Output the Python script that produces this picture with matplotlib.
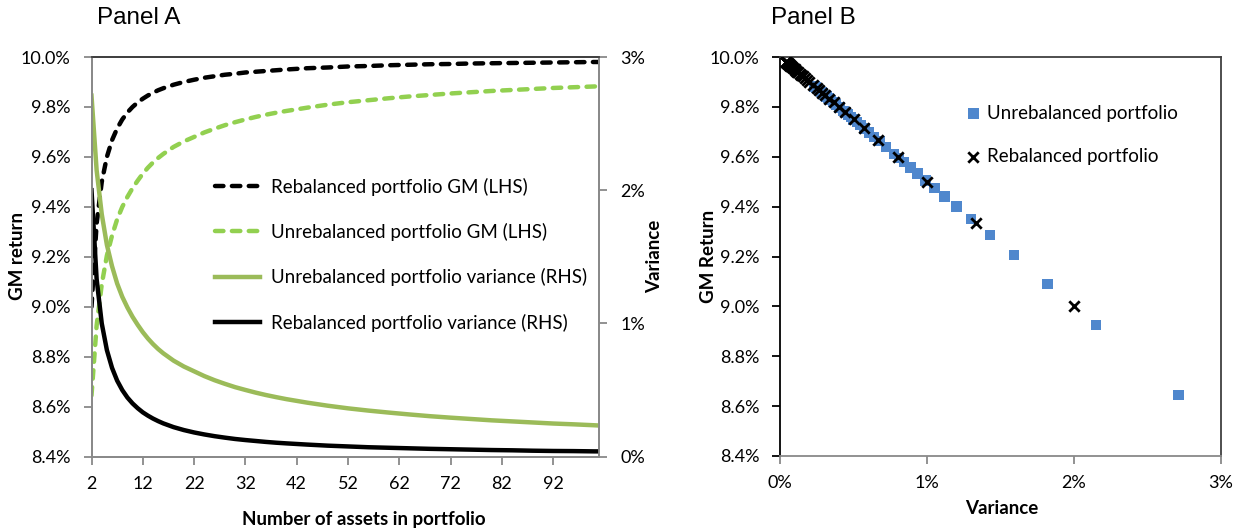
import matplotlib.pyplot as plt
from matplotlib.ticker import FuncFormatter

plt.rcParams['font.family'] = ['Lato', 'DejaVu Sans']

# number of assets in portfolio
n_assets = [2, 3, 4, 5, 6, 7, 8, 9, 10, 11, 12, 13, 14, 15, 16,
            18, 20, 22, 24, 26, 28, 30, 32, 34, 36, 38, 40,
            44, 48, 52, 56, 60, 64, 68, 72, 76, 80, 84, 88, 92, 96, 100, 101]

# geometric mean returns (%)
rebal_gm = [9.0, 9.333, 9.5, 9.6, 9.667, 9.714, 9.75, 9.778, 9.8, 9.818, 9.833,
            9.846, 9.857, 9.867, 9.875,
            9.889, 9.9, 9.909, 9.917, 9.923, 9.929, 9.933, 9.938, 9.941, 9.944,
            9.947, 9.95,
            9.955, 9.958, 9.962, 9.964, 9.967, 9.969, 9.971, 9.972, 9.974, 9.975,
            9.976, 9.977, 9.978, 9.979, 9.98, 9.98]
unrebal_gm = [8.645, 8.925, 9.09, 9.205, 9.285, 9.35, 9.40, 9.44, 9.475, 9.505,
              9.533, 9.557, 9.578, 9.596, 9.612,
              9.640, 9.662, 9.680, 9.698, 9.713, 9.727, 9.739, 9.750, 9.760,
              9.769, 9.777, 9.784,
              9.797, 9.809, 9.819, 9.827, 9.835, 9.842, 9.848, 9.854, 9.859,
              9.864, 9.868, 9.872, 9.876, 9.879, 9.882, 9.883]

# variances (%)
rebal_var = [2.0, 1.333, 1.0, 0.8, 0.667, 0.571, 0.5, 0.444, 0.4, 0.364, 0.333,
             0.308, 0.286, 0.267, 0.25,
             0.222, 0.2, 0.182, 0.167, 0.154, 0.143, 0.133, 0.125, 0.118, 0.111,
             0.105, 0.1,
             0.091, 0.083, 0.077, 0.071, 0.067, 0.063, 0.059, 0.056, 0.053, 0.05,
             0.048, 0.045, 0.043, 0.042, 0.04, 0.04]
unrebal_var = [2.71, 2.15, 1.82, 1.59, 1.43, 1.30, 1.20, 1.12, 1.05, 0.99, 0.935,
               0.887, 0.845, 0.808, 0.776,
               0.721, 0.677, 0.641, 0.605, 0.574, 0.547, 0.522, 0.501, 0.481,
               0.463, 0.447, 0.432,
               0.406, 0.383, 0.363, 0.346, 0.331, 0.317, 0.304, 0.293, 0.283,
               0.273, 0.265, 0.257, 0.249, 0.243, 0.236, 0.234]

x_ticks = [2, 12, 22, 32, 42, 52, 62, 72, 82, 92]
gm_ticks = [8.4, 8.6, 8.8, 9.0, 9.2, 9.4, 9.6, 9.8, 10.0]
var_ticks = [0, 1, 2, 3]

BLACK = '#000000'
LIGHT_GREEN = '#92D050'
GREEN = '#9BBB59'
BLUE = '#4F87CD'
GREY = '#898989'
DARK_GREY = '#404040'

W, H = 1246, 532
fig = plt.figure(figsize=(W / 100, H / 100), dpi=100)


def px(x, y):
    # figure pixel position (from top-left) -> figure fraction
    return x / W, 1 - y / H


pct1 = FuncFormatter(lambda v, p: f"{v:.1f}%")
pct0 = FuncFormatter(lambda v, p: f"{v:.0f}%")


def style_axis(ax, left_col, right_col, top_col, bottom_col):
    ax.spines['left'].set_color(left_col)
    ax.spines['right'].set_color(right_col)
    ax.spines['top'].set_color(top_col)
    ax.spines['bottom'].set_color(bottom_col)
    for s in ax.spines.values():
        s.set_linewidth(1.3)


def axis_title(x, y, text, rotation=0):
    fig.text(*px(x, y), text, fontsize=13.5, fontweight='bold',
             ha='center', va='center', rotation=rotation)


dash = (0, (1.9, 1.9))

# ---------------- Panel A ----------------
ax1 = fig.add_axes([91.5 / W, 1 - 456.7 / H, 507.8 / W, 399.7 / H])
ax2 = ax1.twinx()

l1, = ax1.plot(n_assets, rebal_gm, color=BLACK, lw=3.2, ls=dash,
               dash_capstyle='round', label='Rebalanced portfolio GM (LHS)')
l2, = ax1.plot(n_assets, unrebal_gm, color=LIGHT_GREEN, lw=3.2, ls=dash,
               dash_capstyle='round', label='Unrebalanced portfolio GM (LHS)')
l3, = ax2.plot(n_assets, unrebal_var, color=GREEN, lw=3.2,
               label='Unrebalanced portfolio variance (RHS)')
l4, = ax2.plot(n_assets, rebal_var, color=BLACK, lw=3.2,
               label='Rebalanced portfolio variance (RHS)')

ax1.set_xlim(2, 101)
ax1.set_ylim(8.4, 10.0)
ax2.set_ylim(0, 3)
ax1.set_xticks(x_ticks)
ax1.set_yticks(gm_ticks)
ax2.set_yticks(var_ticks)
ax1.yaxis.set_major_formatter(pct1)
ax2.yaxis.set_major_formatter(pct0)

for a in (ax1, ax2):
    style_axis(a, GREY, GREY, DARK_GREY, GREY)
    a.tick_params(direction='out', length=6, width=1.3, color=GREY,
                  labelsize=13, pad=9)
ax1.tick_params(axis='x', pad=8)

axis_title(364, 520, 'Number of assets in portfolio')
axis_title(18, 256, 'GM return', rotation=90)
axis_title(655, 256, 'Variance', rotation=90)

ax1.legend(handles=[l1, l2, l3, l4], loc='upper left',
           bbox_to_anchor=px(215, 177.5), bbox_transform=fig.transFigure,
           frameon=False, fontsize=13.5, borderpad=0, borderaxespad=0,
           labelspacing=1.46, handlelength=2.4, handletextpad=0.57)

fig.text(*px(97, 18), 'Panel A', family='Liberation Sans', fontsize=17.5,
         va='center', ha='left')

# ---------------- Panel B ----------------
ax3 = fig.add_axes([780 / W, 1 - 456 / H, 441 / W, 399 / H])
ax3.scatter(unrebal_var, unrebal_gm, marker='s', s=56, color=BLUE,
            edgecolors='none', label='Unrebalanced portfolio', zorder=2)
ax3.scatter(rebal_var, rebal_gm, marker='x', s=56, color=BLACK, linewidths=2,
            label='Rebalanced portfolio', zorder=3)

ax3.set_xlim(0, 3)
ax3.set_ylim(8.4, 10.0)
ax3.set_xticks(var_ticks)
ax3.set_yticks(gm_ticks)
ax3.xaxis.set_major_formatter(pct0)
ax3.yaxis.set_major_formatter(pct1)
style_axis(ax3, BLACK, DARK_GREY, DARK_GREY, GREY)
ax3.tick_params(direction='out', length=6, width=1.3, labelsize=13, pad=9)
ax3.tick_params(axis='x', color=GREY, pad=8)
ax3.tick_params(axis='y', color=BLACK)

axis_title(1002, 508, 'Variance')
axis_title(708, 256, 'GM Return', rotation=90)

ax3.legend(loc='upper left', bbox_to_anchor=px(964, 104.5),
           bbox_transform=fig.transFigure, frameon=False, fontsize=13.5,
           borderpad=0, borderaxespad=0, labelspacing=1.4,
           handlelength=1.0, handletextpad=0.21, scatterpoints=1)

fig.text(*px(771, 18), 'Panel B', family='Liberation Sans', fontsize=17.5,
         va='center', ha='left')

fig.savefig('out.png', dpi=100)
